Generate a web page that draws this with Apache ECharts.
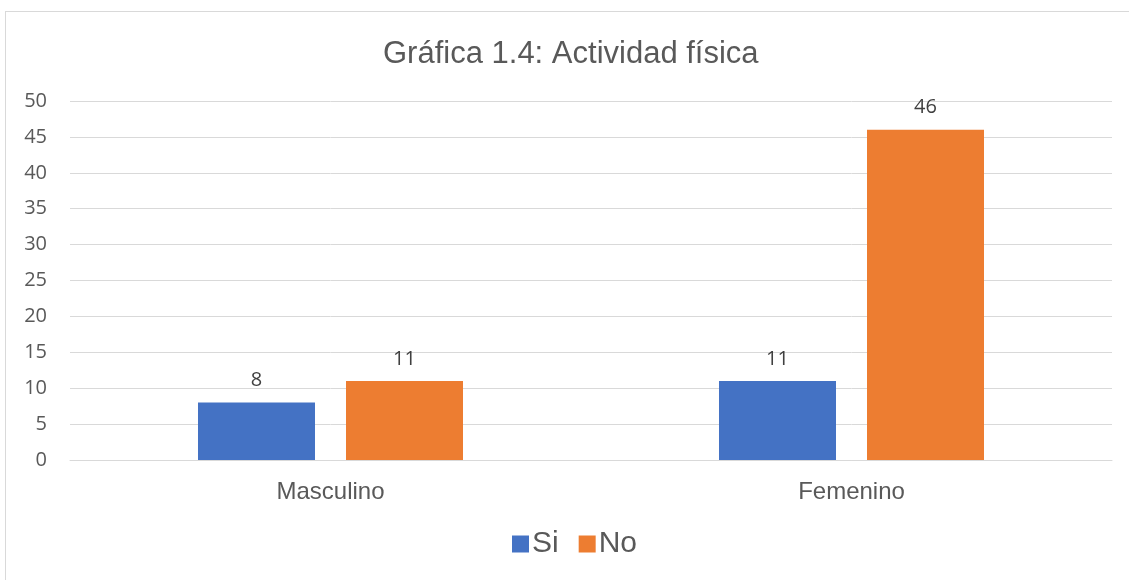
<!DOCTYPE html>
<html>
<head>
<meta charset="utf-8">
<script src="https://cdn.jsdelivr.net/npm/echarts@6/dist/echarts.min.js"></script>
<style>
  html, body { margin: 0; padding: 0; background: #fff; }
  #frame { position: absolute; left: 5px; top: 11px; right: 0; bottom: 0; border-left: 1px solid #d9d9d9; border-top: 1px solid #d9d9d9; }
  #chart { position: absolute; left: 0; top: 0; width: 1129px; height: 580px; }
</style>
</head>
<body>
<div id="frame"></div>
<div id="chart"></div>
<script>
var categories = ['Masculino', 'Femenino']
var siValues = [8, 11]
var noValues = [11, 46]

var chart = echarts.init(document.getElementById('chart'))
var labelStyle = {
	show: true,
	position: 'top',
	distance: 12,
	color: '#404040',
	fontSize: 20,
	fontFamily: 'Open Sans'
}
var option = {
	title: {
		text: 'Gráfica 1.4: Actividad física',
		left: 378,
		top: 34,
		textStyle: { color: '#595959', fontSize: 31, fontWeight: 'normal', fontFamily: 'Liberation Sans' }
	},
	legend: {
		bottom: 16,
		left: 507,
		itemWidth: 17,
		itemHeight: 17,
		itemGap: 20,
		icon: 'rect',
		textStyle: { color: '#595959', fontSize: 30, fontFamily: 'Liberation Sans', padding: [0, 0, 0, -2] },
		data: ['Si', 'No']
	},
	grid: { left: 70, right: 17, top: 101, bottom: 120 },
	xAxis: {
		type: 'category',
		data: categories,
		axisTick: { show: false },
		axisLine: { lineStyle: { color: '#d9d9d9', width: 1 } },
		axisLabel: { color: '#595959', fontSize: 24, margin: 20, fontFamily: 'Liberation Sans' }
	},
	yAxis: {
		type: 'value',
		min: 0,
		max: 50,
		interval: 5,
		axisLine: { show: false },
		axisTick: { show: false },
		splitLine: { lineStyle: { color: '#d9d9d9', width: 1 } },
		axisLabel: { color: '#595959', fontSize: 20, margin: 23, fontFamily: 'Open Sans' }
	},
	series: [
		{
			name: 'Si',
			type: 'bar',
			data: siValues,
			barWidth: 117,
			barGap: '26.5%',
			itemStyle: { color: '#4472C4' },
			label: labelStyle
		},
		{
			name: 'No',
			type: 'bar',
			data: noValues,
			barWidth: 117,
			barGap: '26.5%',
			itemStyle: { color: '#ED7D31' },
			label: labelStyle
		}
	]
}
chart.setOption(option)
</script>
</body>
</html>
